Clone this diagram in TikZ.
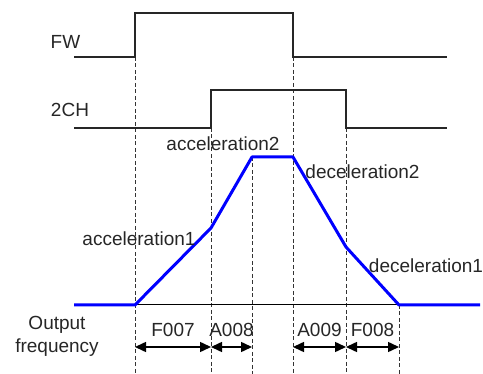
\documentclass[tikz,border=0pt]{standalone}
\usepackage{fontspec}
\setmainfont{Liberation Sans}
\usetikzlibrary{arrows.meta}

\begin{document}
\begin{tikzpicture}[x=1pt,y=-1pt,
  every node/.style={font=\fontsize{19}{23}\selectfont, text=black!85, inner sep=0pt},
  sig/.style={line width=2.2pt, black!85},
  freq/.style={line width=3pt, blue, line join=round},
  guide/.style={line width=0.6pt, black!80, dash pattern=on 4pt off 2.5pt},
  span/.style={{Triangle[length=11pt,width=10pt]}-{Triangle[length=11pt,width=10pt]}, line width=1.5pt}
]
  \useasboundingbox (0,0) rectangle (483,374);
  % time points on the span line
  \coordinate (t0) at (135,347);
  \coordinate (t1) at (211,347);
  \coordinate (t2) at (252,347);
  \coordinate (t3) at (293,347);
  \coordinate (t4) at (346,347);
  \coordinate (t5) at (399,347);

  % guides
  \draw[guide] (135,57) -- (135,374);
  \draw[guide] (211,128) -- (211,374);
  \draw[guide] (252,157) -- (252,374);
  \draw[guide] (293,57) -- (293,374);
  \draw[guide] (346,128) -- (346,374);
  \draw[guide] (399,305) -- (399,374);

  % signals
  \node (fw) at (65.5,42) {FW};
  \node (ch) at (70,110) {2CH};
  \draw[sig] (74,57) -- (135,57) -- (135,13) -- (293,13) -- (293,57) -- (447,57);
  \draw[sig] (74,128) -- (211,128) -- (211,90) -- (346,90) -- (346,128) -- (447,128);

  % output frequency
  \draw[line width=1pt] (135,305) -- (399,305);
  \draw[freq] (74,305) -- (135,305) -- (211,228) -- (252,157) -- (293,157)
    -- (346,247) -- (399,305) -- (480,305);
  \node (acc2) at (223,144) {acceleration2};
  \node (dec2) at (362.5,172) {deceleration2};
  \node (acc1) at (139,239) {acceleration1};
  \node (dec1) at (426,266) {deceleration1};
  \node[align=center, anchor=base] (out) at (57,353) {Output\\frequency};

  % spans
  \draw[span] (t0) -- node[above=10pt] (f007) {F007} (t1);
  \draw[span] (t1) -- node[above=10pt] (a008) {A008} (t2);
  \draw[span] (t3) -- node[above=10pt] (a009) {A009} (t4);
  \draw[span] (t4) -- node[above=10pt] (f008) {F008} (t5);
\end{tikzpicture}
\end{document}
